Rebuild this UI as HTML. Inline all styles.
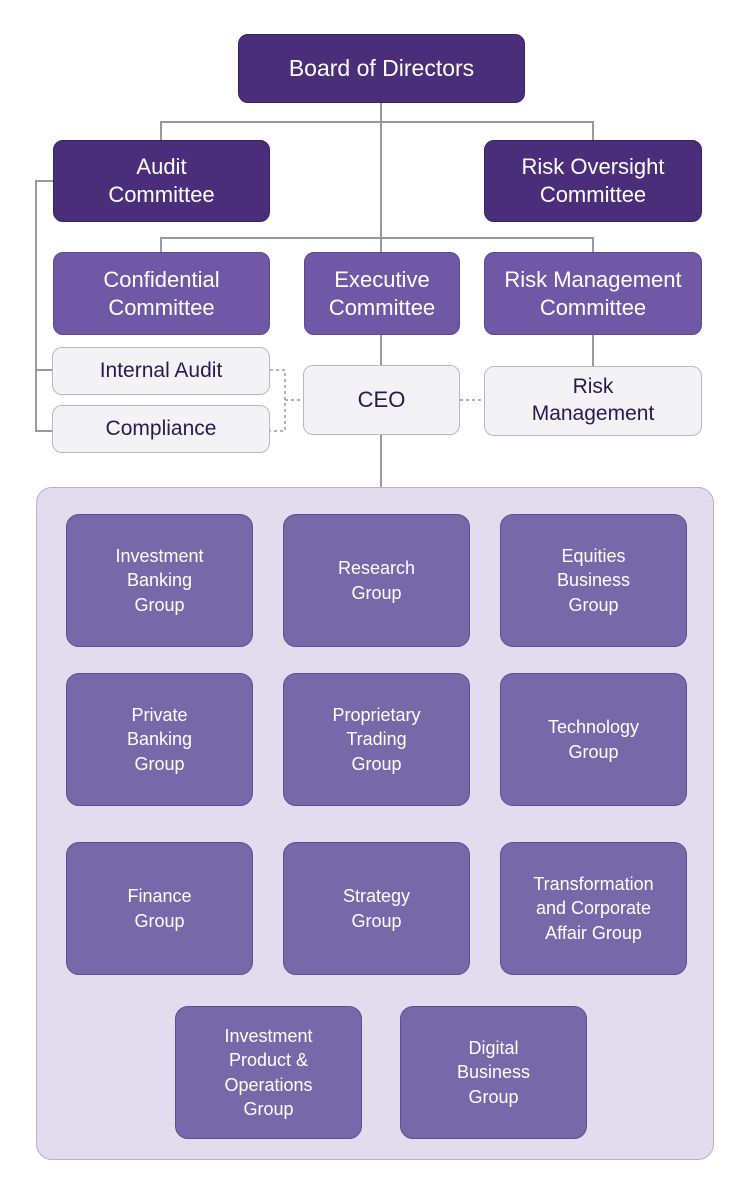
<!DOCTYPE html>
<html><head><meta charset="utf-8"><style>
body{margin:0;width:750px;height:1195px;background:#fff;position:relative;overflow:hidden;font-family:"Liberation Sans","DejaVu Sans",sans-serif}
.b{position:absolute;box-sizing:border-box;display:flex;align-items:center;justify-content:center;text-align:center;border-radius:10px;line-height:1.27}
.d{background:#4b2e7a;color:#fff;font-size:22px;border:1px solid #3a2260}
.m{background:#6f58a6;color:#fff;font-size:22px;border:1px solid #5d4894}
.l{background:#f3f3f5;color:#2a1850;font-size:21px;border:1px solid #b9b9c2}
.g{background:#7569aa;color:#fff;font-size:18px;line-height:1.34;border:1px solid #5c4f92;border-radius:13px;width:187px;height:133px}
#c{position:absolute;left:36px;top:487px;width:678px;height:673px;background:#e1dcee;border:1px solid #b8b0cc;border-radius:16px;box-sizing:border-box}
</style></head><body>
<svg width="750" height="1195" style="position:absolute;left:0;top:0">
<g stroke="#9a98a6" stroke-width="2" fill="none">
<path d="M161 140V122H593V140"/>
<path d="M381 103V487"/>
<path d="M161 252V238H593V252"/>
<path d="M593 335V366"/>
<path d="M53 181H36V431H52M36 370H52"/>
</g>
<g stroke="#9a98a6" stroke-width="1.5" fill="none" stroke-dasharray="3,3">
<path d="M270 370H285V431H270M285 400H303"/>
<path d="M460 400H484"/>
</g>
</svg>
<div class="b d" style="left:238px;top:34px;width:287px;height:69px;font-size:23px">Board of Directors</div>
<div class="b d" style="left:53px;top:140px;width:217px;height:82px">Audit<br>Committee</div>
<div class="b d" style="left:484px;top:140px;width:218px;height:82px">Risk Oversight<br>Committee</div>
<div class="b m" style="left:53px;top:252px;width:217px;height:83px">Confidential<br>Committee</div>
<div class="b m" style="left:304px;top:252px;width:156px;height:83px">Executive<br>Committee</div>
<div class="b m" style="left:484px;top:252px;width:218px;height:83px">Risk Management<br>Committee</div>
<div class="b l" style="left:52px;top:347px;width:218px;height:48px">Internal Audit</div>
<div class="b l" style="left:52px;top:405px;width:218px;height:48px">Compliance</div>
<div class="b l" style="left:303px;top:365px;width:157px;height:70px;font-size:22px">CEO</div>
<div class="b l" style="left:484px;top:366px;width:218px;height:70px">Risk<br>Management</div>
<div id="c"></div>
<div class="b g" style="left:66px;top:514px">Investment<br>Banking<br>Group</div>
<div class="b g" style="left:283px;top:514px">Research<br>Group</div>
<div class="b g" style="left:500px;top:514px">Equities<br>Business<br>Group</div>
<div class="b g" style="left:66px;top:673px">Private<br>Banking<br>Group</div>
<div class="b g" style="left:283px;top:673px">Proprietary<br>Trading<br>Group</div>
<div class="b g" style="left:500px;top:673px">Technology<br>Group</div>
<div class="b g" style="left:66px;top:842px">Finance<br>Group</div>
<div class="b g" style="left:283px;top:842px">Strategy<br>Group</div>
<div class="b g" style="left:500px;top:842px">Transformation<br>and Corporate<br>Affair Group</div>
<div class="b g" style="left:175px;top:1006px">Investment<br>Product &amp;<br>Operations<br>Group</div>
<div class="b g" style="left:400px;top:1006px">Digital<br>Business<br>Group</div>
</body></html>
